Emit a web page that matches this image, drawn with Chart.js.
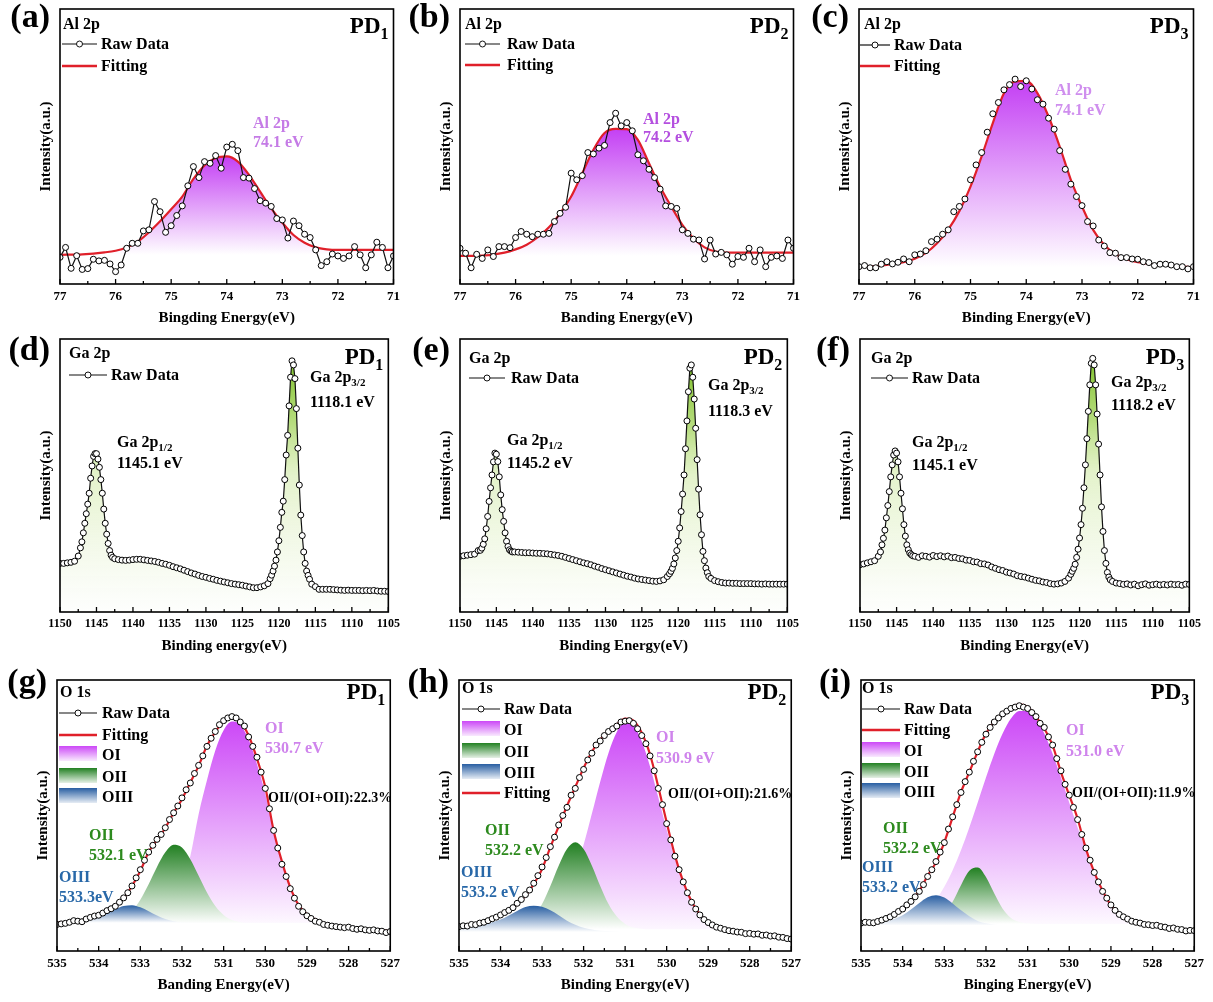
<!DOCTYPE html>
<html>
<head>
<meta charset="utf-8">
<title>XPS spectra PD1-PD3</title>
<script src="https://cdn.jsdelivr.net/npm/chart.js@4.4.1/dist/chart.umd.min.js"></script>
<style>
  body { margin: 0; background: #fff; width: 1213px; height: 1002px; overflow: hidden; position: relative; }
  .cell { position: absolute; }
</style>
</head>
<body>
<script>
// ---- Al 2p ----
var alEnergy = [77.0, 76.9, 76.8, 76.7, 76.6, 76.5, 76.4, 76.3, 76.2, 76.1,
  76.0, 75.9, 75.8, 75.7, 75.6, 75.5, 75.4, 75.3, 75.2, 75.1,
  75.0, 74.9, 74.8, 74.7, 74.6, 74.5, 74.4, 74.3, 74.2, 74.1,
  74.0, 73.9, 73.8, 73.7, 73.6, 73.5, 73.4, 73.3, 73.2, 73.1,
  73.0, 72.9, 72.8, 72.7, 72.6, 72.5, 72.4, 72.3, 72.2, 72.1,
  72.0, 71.9, 71.8, 71.7, 71.6, 71.5, 71.4, 71.3, 71.2, 71.1, 71.0];
var alRawPD1 = [9.7, 13.3, 5.7, 10.3, 5.3, 5.6, 9.0, 8.4, 8.6, 7.3,
  4.5, 6.9, 13.0, 14.8, 14.8, 19.3, 19.7, 30.0, 26.3, 18.8,
  21.2, 24.9, 28.4, 35.7, 42.7, 38.7, 44.5, 43.9, 46.7, 42.1,
  49.8, 50.8, 48.5, 38.7, 38.5, 34.7, 30.3, 29.4, 28.2, 23.8,
  23.3, 16.7, 22.9, 21.2, 18.1, 16.9, 12.4, 6.7, 8.1, 10.9,
  10.2, 9.3, 10.2, 13.6, 10.6, 5.9, 10.6, 15.2, 13.3, 5.9, 10.2];
var alRawPD2 = [13.0, 11.2, 5.9, 10.8, 9.3, 12.4, 10.0, 13.6, 13.6, 13.2,
  16.9, 19.1, 18.1, 17.2, 18.1, 18.1, 18.4, 22.7, 25.7, 27.9,
  40.3, 37.9, 39.4, 47.8, 47.3, 49.4, 50.4, 58.7, 62.1, 57.5,
  58.7, 55.7, 47.0, 44.8, 41.7, 38.7, 34.5, 28.4, 28.2, 27.5,
  19.7, 18.4, 16.3, 16.0, 9.1, 16.0, 10.9, 11.5, 10.6, 7.2,
  10.0, 9.7, 13.0, 8.1, 12.4, 6.3, 9.7, 10.2, 9.3, 16.0, 13.0];
var alRawPD3 = [6.3, 6.7, 5.9, 5.9, 7.2, 8.1, 7.3, 7.9, 9.1, 8.1,
  10.6, 10.9, 12.1, 15.4, 16.3, 18.1, 19.7, 26.3, 28.2, 30.9,
  37.9, 43.3, 47.8, 55.2, 61.9, 66.0, 70.6, 72.5, 74.5, 71.8,
  73.9, 70.9, 67.0, 65.4, 60.3, 56.3, 48.5, 41.7, 36.3, 31.8,
  28.5, 22.7, 21.1, 16.0, 13.8, 11.4, 11.2, 9.6, 9.6, 9.1,
  9.0, 8.1, 7.8, 6.7, 7.2, 7.2, 6.9, 6.3, 6.3, 5.5, 6.3];
var alFitEnergy = [77.0, 76.6, 76.2, 76.0, 75.8, 75.6, 75.4, 75.2, 75.0, 74.8, 74.6, 74.4, 74.2,
  74.0, 73.8, 73.6, 73.4, 73.2, 73.0, 72.8, 72.6, 72.4, 72.2, 72.0, 71.5, 71.0];
var alFitPD1 = [10.6, 10.8, 11.5, 12.1, 13.3, 15.4, 18.8, 22.8, 27.2, 31.8, 38.2, 43.1, 45.8,
  46.4, 44.5, 39.7, 33.6, 27.5, 22.3, 17.8, 15.0, 13.3, 12.6, 12.4, 12.4, 12.4];
var alFitPD2 = [10.2, 10.3, 11.4, 12.6, 14.3, 17.0, 20.6, 25.7, 31.8, 40.3, 48.8, 54.9, 56.4,
  56.3, 52.4, 43.9, 35.4, 28.2, 21.5, 16.6, 13.3, 11.8, 11.4, 11.4, 11.4, 11.4];
var alFitPD3 = [6.3, 6.7, 7.9, 9.2, 11.3, 14.8, 19.8, 26.5, 35.4, 46.4, 58.5, 69.4, 73.7,
  73.9, 69.4, 60.9, 50.0, 37.9, 28.2, 19.7, 14.2, 10.9, 9.0, 7.9, 6.9, 6.1];

// ---- Ga 2p ----
var gaEnergy = [1150, 1149.5, 1149, 1148.5, 1148, 1147.5,
  1147.2, 1147.0, 1146.8, 1146.6, 1146.4, 1146.2, 1146.0, 1145.8, 1145.6, 1145.4, 1145.2, 1145.0,
  1144.8, 1144.6, 1144.4, 1144.2, 1144.0, 1143.8, 1143.6, 1143.4, 1143.2, 1143.0, 1142.8,
  1142.5, 1142, 1141.5, 1141, 1140.5, 1140, 1139.5, 1139, 1138.5, 1138, 1137.5, 1137, 1136.5, 1136,
  1135.5, 1135, 1134.5, 1134, 1133.5, 1133, 1132.5, 1132, 1131.5, 1131, 1130.5, 1130, 1129.5, 1129,
  1128.5, 1128, 1127.5, 1127, 1126.5, 1126, 1125.5, 1125, 1124.5, 1124, 1123.5, 1123, 1122.5, 1122, 1121.5,
  1121.2, 1121.0, 1120.8, 1120.6, 1120.4, 1120.2, 1120.0, 1119.8, 1119.6, 1119.4, 1119.2, 1119.0,
  1118.8, 1118.6, 1118.4, 1118.2, 1118.0, 1117.8, 1117.6, 1117.4, 1117.2, 1117.0, 1116.8, 1116.6,
  1116.4, 1116.2, 1116.0, 1115.8,
  1115.5, 1115, 1114.5, 1114, 1113.5, 1113, 1112.5, 1112, 1111.5, 1111, 1110.5, 1110, 1109.5, 1109,
  1108.5, 1108, 1107.5, 1107, 1106.5, 1106, 1105.5, 1105];
var gaPD1 = [17.8, 17.8, 18.0, 18.2, 18.6, 20.5,
  23.5, 25.7, 29.0, 32.5, 36.0, 39.5, 43.5, 49.0, 53.5, 57.0, 58.0, 58.0,
  56.0, 53.0, 48.5, 43.5, 37.7, 32.5, 28.5, 25.1, 22.5, 20.8, 20.0,
  19.5, 19.2, 19.0, 18.9, 19.0, 19.2, 19.3, 19.3, 19.1, 18.9, 18.7, 18.5, 18.2, 17.8,
  17.5, 17.1, 16.6, 16.2, 15.8, 15.3, 14.8, 14.3, 13.9, 13.4, 13.0, 12.7, 12.3, 12.0,
  11.6, 11.3, 11.0, 10.7, 10.4, 10.2, 10.0, 9.8, 9.5, 9.2, 8.9, 8.9, 9.2, 9.6, 10.4,
  12.2, 13.5, 15.0, 16.8, 19.0, 22.0, 26.1, 31.0, 36.5, 40.6, 48.5, 57.5,
  64.7, 75.5, 86.0, 92.0, 90.5, 85.5, 74.5, 60.0, 46.5, 35.5, 28.0, 22.0,
  17.8, 15.0, 13.4, 12.0,
  10.2, 9.3, 8.3, 8.3, 8.3, 8.3, 8.2, 8.1, 8.0, 7.9, 8.0, 7.9, 7.9, 7.9,
  7.8, 7.9, 7.8, 7.9, 7.7, 7.6, 7.6, 7.5];
var gaPD2 = [20.4, 20.6, 20.8, 21.0, 21.2, 22.5,
  22.6, 23.4, 24.8, 26.8, 30.5, 35.0, 40.5, 45.5, 50.2, 55.0, 58.2, 57.8,
  55.1, 49.5, 42.9, 37.5, 33.2, 29.0, 25.9, 24.0, 22.8, 22.3, 22.0,
  22.0, 21.9, 21.8, 21.7, 21.7, 21.6, 21.5, 21.5, 21.4, 21.3, 21.1, 20.9, 20.7, 20.4,
  20.0, 19.6, 19.2, 18.8, 18.4, 18.0, 17.7, 17.3, 16.8, 16.4, 15.9, 15.5, 15.1, 14.7,
  14.3, 13.9, 13.5, 13.1, 12.8, 12.4, 12.1, 11.9, 11.7, 11.5, 11.3, 11.2, 11.4, 11.8, 13.0,
  14.0, 14.9, 16.0, 17.6, 19.8, 22.5, 25.9, 30.8, 36.8, 43.2, 50.2, 59.8,
  70.0, 80.7, 89.3, 90.5, 86.0, 78.0, 67.3, 55.8, 45.0, 35.6, 28.3, 22.2,
  18.8, 16.1, 14.4, 13.0,
  12.3, 11.5, 11.1, 10.8, 10.6, 10.6, 10.5, 10.5, 10.4, 10.4, 10.4, 10.4, 10.3, 10.3,
  10.2, 10.3, 10.2, 10.2, 10.2, 10.2, 10.2, 10.2];
var gaPD3 = [17.3, 17.6, 18.0, 18.4, 18.8, 20.4,
  22.0, 24.6, 27.0, 30.0, 34.5, 39.0, 44.1, 49.5, 53.9, 57.5, 59.0, 58.2,
  55.0, 49.5, 43.5, 37.8, 32.0, 27.8, 24.6, 22.8, 21.6, 21.0, 20.6,
  20.4, 20.0, 20.6, 20.4, 20.1, 20.7, 20.3, 20.6, 20.2, 20.5, 19.9, 20.0, 19.6, 19.5,
  19.0, 18.9, 18.4, 18.3, 17.7, 17.6, 17.2, 16.5, 16.0, 15.5, 15.2, 14.6, 14.3, 13.9,
  13.3, 13.0, 12.8, 12.4, 12.0, 11.6, 11.4, 11.0, 10.8, 10.4, 10.2, 10.3, 10.6, 11.2, 12.4,
  13.8, 14.9, 16.0, 17.5, 20.0, 23.0, 27.1, 32.0, 38.0, 45.5, 53.9, 63.5,
  73.5, 83.2, 91.1, 92.9, 90.5, 83.2, 72.5, 61.5, 50.2, 38.5, 29.5, 22.5,
  17.8, 14.5, 12.8, 11.8,
  11.2, 10.6, 10.4, 10.1, 10.3, 9.9, 10.2, 9.6, 10.0, 10.3, 9.8, 10.0, 10.2, 9.9,
  10.1, 9.9, 10.2, 10.0, 10.1, 9.8, 10.2, 10.1];

// ---- O 1s ----
var oEnergy = [535.0, 534.9, 534.8, 534.7, 534.6, 534.5, 534.4, 534.3, 534.2, 534.1,
  534.0, 533.9, 533.8, 533.7, 533.6, 533.5, 533.4, 533.3, 533.2, 533.1,
  533.0, 532.9, 532.8, 532.7, 532.6, 532.5, 532.4, 532.3, 532.2, 532.1,
  532.0, 531.9, 531.8, 531.7, 531.6, 531.5, 531.4, 531.3, 531.2, 531.1,
  531.0, 530.9, 530.8, 530.7, 530.6, 530.5, 530.4, 530.3, 530.2, 530.1,
  530.0, 529.9, 529.8, 529.7, 529.6, 529.5, 529.4, 529.3, 529.2, 529.1,
  529.0, 528.9, 528.8, 528.7, 528.6, 528.5, 528.4, 528.3, 528.2, 528.1,
  528.0, 527.9, 527.8, 527.7, 527.6, 527.5, 527.4, 527.3, 527.2, 527.1, 527.0];
var oRawPD1 = [9.8, 10.0, 10.2, 10.6, 11.2, 11.0, 10.8, 11.8, 12.4, 12.9,
  13.2, 14.0, 14.9, 15.6, 16.5, 18.0, 19.6, 21.5, 24.0, 27.0,
  30.0, 33.5, 36.5, 39.0, 41.2, 43.0, 45.5, 48.5, 51.0, 53.5,
  56.5, 59.5, 62.0, 65.5, 68.5, 72.0, 75.5, 78.5, 81.0, 83.5,
  85.0, 86.0, 86.5, 86.0, 84.5, 83.0, 79.0, 75.5, 71.5, 66.0,
  60.0, 52.5, 44.5, 38.0, 32.0, 27.5, 23.0, 19.5, 16.5, 14.5,
  13.0, 12.0, 11.0, 10.6, 9.8, 9.5, 9.2, 9.0, 8.8, 8.6,
  8.8, 8.3, 8.0, 8.2, 7.8, 7.6, 7.8, 7.4, 7.3, 6.8, 7.2];
var oRawPD2 = [9.0, 9.3, 9.2, 9.8, 9.7, 10.3, 10.6, 11.2, 11.9, 12.5,
  13.3, 14.2, 15.0, 16.0, 17.6, 19.0, 20.8, 22.5, 25.0, 27.8,
  31.0, 34.5, 38.5, 42.0, 46.5, 50.0, 53.0, 57.5, 60.0, 64.0,
  67.0, 70.5, 73.0, 76.0, 77.5, 79.5, 81.0, 82.0, 83.0, 84.5,
  84.8, 85.0, 84.0, 82.0, 79.5, 76.5, 72.0, 66.5, 60.0, 54.0,
  47.0, 41.0, 35.0, 30.0, 25.5, 21.5, 18.0, 15.5, 13.3, 11.6,
  10.5, 9.6, 8.8, 8.4, 7.9, 7.5, 7.3, 7.0, 6.9, 6.4,
  6.5, 6.2, 6.3, 5.8, 5.9, 5.5, 5.6, 5.1, 5.0, 4.6, 4.4];
var oRawPD3 = [10.3, 10.6, 10.5, 10.4, 10.9, 11.4, 12.0, 12.6, 13.5, 14.6,
  15.5, 17.0, 18.3, 20.0, 22.0, 24.5, 27.5, 30.0, 33.0, 36.5,
  40.0, 45.0, 49.5, 54.0, 58.5, 62.5, 66.0, 70.0, 73.5, 77.0,
  80.0, 82.5, 84.5, 86.0, 87.5, 88.5, 89.5, 90.0, 90.5, 90.0,
  89.5, 88.0, 86.5, 84.0, 82.5, 79.0, 76.0, 71.0, 66.5, 61.5,
  57.5, 53.0, 48.5, 43.0, 38.0, 33.5, 29.0, 25.5, 22.0, 19.5,
  17.0, 15.0, 13.5, 12.6, 11.8, 11.0, 10.6, 10.3, 9.8, 9.7,
  9.4, 9.5, 9.0, 8.8, 8.3, 8.5, 8.0, 7.9, 7.4, 7.6, 7.5];
var oFitEnergy = [535.0, 534.8, 534.6, 534.4, 534.2, 534.0, 533.8, 533.6, 533.4, 533.2,
  533.0, 532.8, 532.6, 532.4, 532.2, 532.0, 531.8, 531.6, 531.4, 531.2,
  531.0, 530.8, 530.6, 530.4, 530.2, 530.0, 529.8, 529.6, 529.4, 529.2,
  529.0, 528.8, 528.6, 528.4, 528.2, 528.0, 527.8, 527.6, 527.4, 527.2, 527.0];
var oFitPD1 = [10.4, 10.6, 11.0, 11.3, 12.3, 13.3, 14.5, 16.8, 19.5, 24.0,
  29.5, 36.5, 41.0, 45.4, 51.0, 56.0, 62.2, 68.3, 75.7, 80.8,
  84.8, 86.1, 84.7, 79.5, 71.0, 60.5, 44.5, 33.0, 23.5, 17.0,
  13.5, 11.6, 10.2, 9.4, 9.0, 8.6, 8.4, 8.1, 7.9, 7.6, 7.4];
var oOI_PD1 = [8.0, 8.0, 8.0, 8.0, 8.0, 8.0, 8.0, 8.1, 8.2, 8.5,
  9.0, 9.6, 10.8, 13.0, 17.0, 24.0, 35.0, 50.5, 63.0, 74.0,
  81.5, 84.7, 83.5, 78.0, 69.0, 58.0, 44.0, 32.5, 23.0, 16.5,
  12.8, 10.8, 9.6, 9.0, 8.6, 8.3, 8.0, 7.8, 7.6, 7.5, 7.3];
var oOII_PD1 = [10.0, 10.0, 10.0, 10.0, 10.0, 10.0, 10.0, 10.9, 12.2, 14.7,
  18.9, 24.6, 31.0, 36.4, 39.2, 38.2, 33.9, 27.8, 21.6, 16.6,
  13.3, 11.4, 10.6, 10.0, 10.0, 10.0, 10.0, 10.0, 10.0, 10.0,
  10.0, 10.0, 10.0, 10.0, 10.0, 10.0, 10.0, 10.0, 10.0, 10.0, 10.0];
var oOIII_PD1 = [10.4, 10.4, 10.5, 10.8, 11.4, 12.4, 13.9, 15.4, 16.6, 16.9,
  16.1, 14.7, 13.1, 11.8, 11.0, 10.6, 10.4, 10.4, 10.4, 10.4,
  10.4, 10.4, 10.4, 10.4, 10.4, 10.4, 10.4, 10.4, 10.4, 10.4,
  10.4, 10.4, 10.4, 10.4, 10.4, 10.4, 10.4, 10.4, 10.4, 10.4, 10.4];
var oFitPD2 = [9.3, 9.6, 9.9, 10.7, 11.7, 13.2, 14.8, 17.3, 20.4, 24.7,
  30.2, 38.3, 46.0, 53.5, 60.5, 67.5, 73.5, 78.0, 81.0, 83.6,
  85.8, 85.0, 80.5, 72.5, 60.5, 47.5, 35.2, 25.5, 18.3, 13.5,
  10.5, 9.0, 8.0, 7.3, 6.8, 6.4, 6.0, 5.6, 5.2, 4.8, 4.4];
var oOI_PD2 = [6.5, 6.5, 6.5, 6.5, 6.6, 6.7, 6.9, 7.2, 7.7, 8.3,
  9.0, 11.4, 15.3, 21.3, 29.2, 39.2, 50.7, 62.5, 73.1, 80.8,
  84.4, 83.3, 77.4, 68.1, 56.6, 44.8, 34.0, 24.9, 18.0, 13.2,
  10.0, 8.6, 7.5, 6.9, 6.5, 6.2, 5.9, 5.5, 5.1, 4.8, 4.4];
var oOII_PD2 = [8.0, 8.0, 8.0, 8.0, 8.0, 8.0, 8.0, 8.7, 10.0, 12.7,
  17.3, 24.0, 31.5, 37.6, 40.1, 37.6, 31.5, 24.0, 17.3, 12.7,
  10.0, 8.7, 8.2, 8.0, 8.0, 8.0, 8.0, 8.0, 8.0, 8.0,
  8.0, 8.0, 8.0, 8.0, 8.0, 8.0, 8.0, 8.0, 8.0, 8.0, 8.0];
var oOIII_PD2 = [9.3, 9.4, 9.6, 10.0, 10.6, 11.6, 13.1, 14.8, 16.2, 16.7,
  16.3, 15.0, 13.2, 11.2, 9.7, 8.6, 7.9, 7.5, 7.3, 7.1,
  7.0, 7.0, 7.0, 7.0, 7.0, 7.0, 7.0, 7.0, 7.0, 7.0,
  7.0, 7.0, 7.0, 7.0, 7.0, 7.0, 7.0, 7.0, 7.0, 7.0, 7.0];
var oFitPD3 = [10.5, 10.6, 10.7, 12.0, 13.6, 15.7, 18.5, 22.2, 27.8, 32.7,
  40.1, 49.4, 58.6, 66.0, 73.5, 80.2, 84.6, 87.7, 89.8, 91.0,
  90.1, 86.4, 82.1, 75.9, 66.0, 57.4, 48.8, 37.7, 29.0, 22.2,
  16.9, 13.6, 11.7, 10.6, 9.9, 9.4, 9.0, 8.5, 8.0, 7.7, 7.4];
var oOI_PD3 = [8.1, 8.2, 8.3, 8.6, 9.0, 9.8, 11.0, 12.7, 15.3, 18.9,
  23.7, 29.8, 37.2, 45.6, 54.7, 64.0, 72.8, 80.3, 85.8, 88.6,
  88.6, 85.8, 80.3, 72.8, 64.0, 54.7, 45.6, 37.2, 29.0, 22.0,
  16.5, 13.3, 11.5, 10.4, 9.7, 9.0, 8.4, 8.0, 7.7, 7.5, 7.3];
var oOII_PD3 = [10.0, 10.0, 10.0, 10.0, 10.0, 10.0, 10.0, 10.0, 10.0, 11.3,
  13.6, 18.2, 24.3, 29.6, 30.8, 27.3, 21.2, 15.6, 12.2, 10.7,
  10.2, 10.0, 10.0, 10.0, 10.0, 10.0, 10.0, 10.0, 10.0, 10.0,
  10.0, 10.0, 10.0, 10.0, 10.0, 10.0, 10.0, 10.0, 10.0, 10.0, 10.0];
var oOIII_PD3 = [10.5, 10.6, 10.7, 11.0, 11.8, 13.2, 15.3, 17.7, 19.8, 20.6,
  19.7, 17.5, 15.0, 12.8, 11.1, 10.2, 9.7, 9.5, 9.4, 9.4,
  9.4, 9.4, 9.4, 9.4, 9.4, 9.4, 9.4, 9.4, 9.4, 9.4,
  9.4, 9.4, 9.4, 9.4, 9.4, 9.4, 9.4, 9.4, 9.4, 9.4, 9.4];

// ---- styling ----
var SERIF = '"Liberation Serif", "Times New Roman", serif';
var RED = '#e0202a';
var AL_STOPS = [[0, 'rgb(196,64,244)'], [1, 'rgb(255,255,255)']];
var OI_STOPS = [[0, 'rgb(204,72,247)'], [1, 'rgb(255,255,255)']];
var OII_STOPS = [[0, 'rgb(34,128,34)'], [1, 'rgb(255,255,255)']];
var OIII_STOPS = [[0, 'rgb(40,94,162)'], [1, 'rgb(255,255,255)']];
var GA_STOPS = [[0, 'rgba(128,194,44,1)'], [0.25, 'rgba(165,212,95,0.8)'], [0.45, 'rgba(200,230,150,0.5)'],
  [0.8, 'rgba(225,240,200,0.3)'], [1, 'rgba(240,248,232,0.12)']];
var SWATCH = { OI: OI_STOPS, OII: OII_STOPS, OIII: OIII_STOPS };
var C_OI = '#cf84ec', C_OII = '#2d8a1e', C_OIII = '#2868a8';

function fnt(size) { return 'bold ' + size + 'px ' + SERIF; }

function pairs(xs, ys) {
  var out = [];
  for (var i = 0; i < xs.length && i < ys.length; i++) out.push({ x: xs[i], y: ys[i] });
  return out;
}

// vertical gradient from the dataset's highest point down to its lowest (or to the plot bottom)
function fade(stops, toBottom) {
  return function (c) {
    var chart = c.chart;
    if (!chart.chartArea || !c.dataset) return 'rgba(0,0,0,0)';
    var ys = c.dataset.data.map(function (p) { return p.y; });
    var sy = chart.scales.y;
    var top = sy.getPixelForValue(Math.max.apply(null, ys));
    var bot = toBottom ? chart.chartArea.bottom : sy.getPixelForValue(Math.min.apply(null, ys));
    var g = chart.ctx.createLinearGradient(0, top, 0, bot);
    stops.forEach(function (s) { g.addColorStop(s[0], s[1]); });
    return g;
  };
}

function rawSet(data, showLine, fill, r) {
  return {
    data: data, showLine: showLine, borderColor: '#111', borderWidth: 1.2, tension: 0,
    pointRadius: r || 3, pointBorderWidth: 1, pointBackgroundColor: '#fff', pointBorderColor: '#000',
    fill: fill ? 'start' : false, backgroundColor: fill || 'rgba(0,0,0,0)', order: 0
  };
}
function fitSet(data, fill) {
  return {
    data: data, borderColor: RED, borderWidth: 2.2, pointRadius: 0, cubicInterpolationMode: 'monotone',
    fill: fill ? 'start' : false, backgroundColor: fill || 'rgba(0,0,0,0)', order: 1
  };
}
function compSet(data, stops, order) {
  return {
    data: data, borderWidth: 0, borderColor: 'rgba(0,0,0,0)', pointRadius: 0,
    cubicInterpolationMode: 'monotone', fill: 'start', backgroundColor: fade(stops), order: order
  };
}
function oSets(raw, fit, oi, oii, oiii) {
  return [rawSet(pairs(oEnergy, raw), false), fitSet(pairs(oFitEnergy, fit)),
    compSet(pairs(oFitEnergy, oiii), OIII_STOPS, 2), compSet(pairs(oFitEnergy, oii), OII_STOPS, 3),
    compSet(pairs(oFitEnergy, oi), OI_STOPS, 4)];
}

function sub(a, b) { return [[a, 0], [b, 1]]; }

var panels = [
  { box: [60, 9, 395, 284], letter: '(a)', letterDy: 18, pd: '1', pdDy: 24, head: 'Al 2p', headAt: [3, 20],
    xMin: 71, xMax: 77, step: 1, tick: 13, xTitle: 'Bingding Energy(eV)',
    legend: { x0: 2, x1: 37, tx: 41, rows: [['raw', 'Raw Data', 40], ['fit', 'Fitting', 62]] },
    notes: [{ t: 'Al 2p', at: [193, 119], c: '#c57be6' }, { t: '74.1 eV', at: [193, 138], c: '#c57be6' }],
    datasets: [rawSet(pairs(alEnergy, alRawPD1), true), fitSet(pairs(alFitEnergy, alFitPD1), fade(AL_STOPS))] },
  { box: [460, 9, 795, 284], letter: '(b)', letterDy: 18, pd: '2', pdDy: 24, head: 'Al 2p', headAt: [5, 20],
    xMin: 71, xMax: 77, step: 1, tick: 13, xTitle: 'Banding Energy(eV)',
    legend: { x0: 5, x1: 40, tx: 47, rows: [['raw', 'Raw Data', 40], ['fit', 'Fitting', 61]] },
    notes: [{ t: 'Al 2p', at: [183, 115], c: '#b44fdf' }, { t: '74.2 eV', at: [183, 133], c: '#b44fdf' }],
    datasets: [rawSet(pairs(alEnergy, alRawPD2), true), fitSet(pairs(alFitEnergy, alFitPD2), fade(AL_STOPS))] },
  { box: [859, 9, 1195, 284], letter: '(c)', letterDy: 18, pd: '3', pdDy: 24, head: 'Al 2p', headAt: [5, 20],
    xMin: 71, xMax: 77, step: 1, tick: 13, xTitle: 'Binding Energy(eV)',
    legend: { x0: 1, x1: 31, tx: 35, rows: [['raw', 'Raw Data', 41], ['fit', 'Fitting', 62]] },
    notes: [{ t: 'Al 2p', at: [196, 86], c: '#cf8eee' }, { t: '74.1 eV', at: [196, 106], c: '#cf8eee' }],
    datasets: [rawSet(pairs(alEnergy, alRawPD3), false), fitSet(pairs(alFitEnergy, alFitPD3), fade(AL_STOPS))] },

  { box: [60, 339, 395, 612], letter: '(d)', letterDy: 21, pd: '1', pdDy: 25, head: 'Ga 2p', headAt: [9, 19],
    xMin: 1105, xMax: 1150, step: 5, tick: 12, xTitle: 'Binding energy(eV)',
    legend: { x0: 9, x1: 47, tx: 51, rows: [['raw', 'Raw Data', 41]] },
    notes: [{ t: sub('Ga 2p', '1/2'), at: [57, 108] }, { t: '1145.1 eV', at: [57, 129] },
            { t: sub('Ga 2p', '3/2'), at: [250, 43] }, { t: '1118.1 eV', at: [250, 68] }],
    datasets: [rawSet(pairs(gaEnergy, gaPD1), true, fade(GA_STOPS, true), 3)] },
  { box: [460, 339, 794, 612], letter: '(e)', letterDy: 21, pd: '2', pdDy: 25, head: 'Ga 2p', headAt: [9, 24],
    xMin: 1105, xMax: 1150, step: 5, tick: 12, xTitle: 'Binding Energy(eV)',
    legend: { x0: 9, x1: 45, tx: 51, rows: [['raw', 'Raw Data', 44]] },
    notes: [{ t: sub('Ga 2p', '1/2'), at: [47, 106] }, { t: '1145.2 eV', at: [47, 129] },
            { t: sub('Ga 2p', '3/2'), at: [248, 51] }, { t: '1118.3 eV', at: [248, 77] }],
    datasets: [rawSet(pairs(gaEnergy, gaPD2), true, fade(GA_STOPS, true), 3)] },
  { box: [860, 339, 1196, 612], letter: '(f)', letterDy: 21, pd: '3', pdDy: 25, head: 'Ga 2p', headAt: [11, 24],
    xMin: 1105, xMax: 1150, step: 5, tick: 12, xTitle: 'Binding Energy(eV)',
    legend: { x0: 11, x1: 48, tx: 52, rows: [['raw', 'Raw Data', 44]] },
    notes: [{ t: sub('Ga 2p', '1/2'), at: [52, 108] }, { t: '1145.1 eV', at: [52, 131] },
            { t: sub('Ga 2p', '3/2'), at: [251, 48] }, { t: '1118.2 eV', at: [251, 71] }],
    datasets: [rawSet(pairs(gaEnergy, gaPD3), true, fade(GA_STOPS, true), 3)] },

  { box: [57, 680, 395, 951], letter: '(g)', letterDy: 12, pd: '1', pdDy: 19, head: 'O 1s', headAt: [3, 17],
    xMin: 527, xMax: 535, step: 1, tick: 13, xTitle: 'Banding Energy(eV)',
    legend: { x0: 2, x1: 40, tx: 45, rows: [['raw', 'Raw Data', 38], ['fit', 'Fitting', 60], ['OI', 'OI', 80], ['OII', 'OII', 102], ['OIII', 'OIII', 122]] },
    notes: [{ t: 'OI', at: [208, 53], c: C_OI }, { t: '530.7 eV', at: [208, 73], c: C_OI },
            { t: 'OII/(OI+OII):22.3%', at: [211, 122], s: 14 },
            { t: 'OII', at: [32, 160], c: C_OII }, { t: '532.1 eV', at: [32, 180], c: C_OII },
            { t: 'OIII', at: [2, 202], c: C_OIII }, { t: '533.3eV', at: [2, 222], c: C_OIII }],
    datasets: oSets(oRawPD1, oFitPD1, oOI_PD1, oOII_PD1, oOIII_PD1) },
  { box: [459, 680, 796, 951], letter: '(h)', letterDy: 12, pd: '2', pdDy: 19, head: 'O 1s', headAt: [3, 13],
    xMin: 527, xMax: 535, step: 1, tick: 13, xTitle: 'Binding Energy(eV)',
    legend: { x0: 3, x1: 41, tx: 45, rows: [['raw', 'Raw Data', 34], ['OI', 'OI', 55], ['OII', 'OII', 77], ['OIII', 'OIII', 98], ['fit', 'Fitting', 118]] },
    notes: [{ t: 'OI', at: [197, 62], c: C_OI }, { t: '530.9 eV', at: [197, 83], c: C_OI },
            { t: 'OII/(OI+OII):21.6%', at: [209, 118], s: 14 },
            { t: 'OII', at: [26, 155], c: C_OII }, { t: '532.2 eV', at: [26, 175], c: C_OII },
            { t: 'OIII', at: [2, 197], c: C_OIII }, { t: '533.2 eV', at: [2, 217], c: C_OIII }],
    datasets: oSets(oRawPD2, oFitPD2, oOI_PD2, oOII_PD2, oOIII_PD2) },
  { box: [861, 680, 1199, 951], letter: '(i)', letterDy: 12, pd: '3', pdDy: 19, head: 'O 1s', headAt: [1, 13],
    xMin: 527, xMax: 535, step: 1, tick: 13, xTitle: 'Binging Energy(eV)',
    legend: { x0: 1, x1: 39, tx: 43, rows: [['raw', 'Raw Data', 34], ['fit', 'Fitting', 55], ['OI', 'OI', 76], ['OII', 'OII', 97], ['OIII', 'OIII', 117]] },
    notes: [{ t: 'OI', at: [205, 55], c: C_OI }, { t: '531.0 eV', at: [205, 76], c: C_OI },
            { t: 'OII/(OI+OII):11.9%', at: [211, 117], s: 14 },
            { t: 'OII', at: [22, 153], c: C_OII }, { t: '532.2 eV', at: [22, 173], c: C_OII },
            { t: 'OIII', at: [1, 192], c: C_OIII }, { t: '533.2 eV', at: [1, 212], c: C_OIII }],
    datasets: oSets(oRawPD3, oFitPD3, oOI_PD3, oOII_PD3, oOIII_PD3) }
];

function seg(ctx, x1, y1, x2, y2) {
  ctx.beginPath(); ctx.moveTo(x1, y1); ctx.lineTo(x2, y2); ctx.stroke();
}

// text with optional subscript parts: [[text, isSub], ...]
function rich(ctx, parts, x, y, size, color, align) {
  if (typeof parts === 'string') parts = [[parts, 0]];
  var small = Math.round(size * 0.68), w = 0;
  parts.forEach(function (p) { ctx.font = fnt(p[1] ? small : size); w += ctx.measureText(p[0]).width; });
  var cx = align === 'right' ? x - w : x;
  ctx.fillStyle = color || '#000';
  ctx.textAlign = 'left';
  ctx.textBaseline = 'alphabetic';
  parts.forEach(function (p) {
    ctx.font = fnt(p[1] ? small : size);
    ctx.fillText(p[0], cx, y + (p[1] ? Math.round(size * 0.28) : 0));
    cx += ctx.measureText(p[0]).width;
  });
}

function decorate(chart, p) {
  var ctx = chart.ctx, a = chart.chartArea, xs = chart.scales.x;
  ctx.save();
  // frame
  ctx.strokeStyle = '#000';
  ctx.lineWidth = 1.6;
  ctx.strokeRect(a.left, a.top, a.right - a.left, a.bottom - a.top);
  // inward ticks on the bottom axis
  ctx.lineWidth = 1.3;
  xs.ticks.forEach(function (t) {
    var px = xs.getPixelForValue(t.value);
    seg(ctx, px, a.bottom, px, a.bottom - 5);
    var mid = t.value + p.step / 2;
    if (mid < xs.max) {
      var mx = xs.getPixelForValue(mid);
      seg(ctx, mx, a.bottom, mx, a.bottom - 3);
    }
  });
  // panel letter, sample tag, element
  rich(ctx, p.letter, a.left - 10, a.top + p.letterDy, 34, '#000', 'right');
  rich(ctx, sub('PD', p.pd), a.right - 5, a.top + p.pdDy, 23, '#000', 'right');
  rich(ctx, p.head, a.left + p.headAt[0], a.top + p.headAt[1], 16, '#000');
  // peak notes
  p.notes.forEach(function (n) {
    rich(ctx, n.t, a.left + n.at[0], a.top + n.at[1], n.s || 16, n.c || '#000');
  });
  // legend
  var lg = p.legend;
  lg.rows.forEach(function (r) {
    var y = a.top + r[2], x0 = a.left + lg.x0, x1 = a.left + lg.x1, my = y - 5;
    if (r[0] === 'raw') {
      ctx.strokeStyle = '#111'; ctx.lineWidth = 1.2;
      seg(ctx, x0, my, x1, my);
      ctx.beginPath(); ctx.arc((x0 + x1) / 2, my, 3, 0, Math.PI * 2);
      ctx.fillStyle = '#fff'; ctx.fill(); ctx.lineWidth = 1; ctx.stroke();
    } else if (r[0] === 'fit') {
      ctx.strokeStyle = RED; ctx.lineWidth = 2.5;
      seg(ctx, x0, my, x1, my);
    } else {
      var g = ctx.createLinearGradient(0, y - 14, 0, y + 3);
      SWATCH[r[0]].forEach(function (s) { g.addColorStop(s[0], s[1]); });
      ctx.fillStyle = g;
      ctx.fillRect(x0, y - 14, x1 - x0, 15);
    }
    rich(ctx, r[1], a.left + lg.tx, y, 16, '#000');
  });
  ctx.restore();
}

function makePanel(p) {
  var W = p.box[2] - p.box[0] + 70, H = p.box[3] - p.box[1] + 64;
  var div = document.createElement('div');
  div.className = 'cell';
  div.style.left = (p.box[0] - 60) + 'px';
  div.style.top = (p.box[1] - 14) + 'px';
  div.style.width = W + 'px';
  div.style.height = H + 'px';
  var cv = document.createElement('canvas');
  div.appendChild(cv);
  document.body.appendChild(div);

  new Chart(cv, {
    type: 'line',
    data: { datasets: p.datasets },
    options: {
      responsive: true,
      maintainAspectRatio: false,
      animation: false,
      layout: { padding: { left: 37, top: 14, right: 10, bottom: 0 } },
      plugins: { legend: { display: false }, tooltip: { enabled: false } },
      scales: {
        x: {
          type: 'linear', reverse: true, min: p.xMin, max: p.xMax,
          grid: { display: false, drawTicks: false },
          border: { display: false },
          ticks: {
            stepSize: p.step, autoSkip: false, maxRotation: 0, padding: 5, color: '#000',
            font: { family: SERIF, size: p.tick, weight: 'bold' },
            callback: function (v) { return String(v); }
          },
          title: {
            display: true, text: p.xTitle, color: '#000', padding: { top: 0, bottom: 7 },
            font: { family: SERIF, size: 15, weight: 'bold' }
          },
          afterFit: function (s) { s.height = 50; }
        },
        y: {
          min: 0, max: 100,
          grid: { display: false, drawTicks: false },
          border: { display: false },
          ticks: { display: false },
          title: {
            display: true, text: 'Intensity(a.u.)', color: '#000', padding: 0,
            font: { family: SERIF, size: 15, weight: 'bold' }
          },
          afterFit: function (s) { s.width = 23; }
        }
      }
    },
    plugins: [{ id: 'decor', afterDraw: function (c) { decorate(c, p); } }]
  });
}

panels.forEach(makePanel);
</script>
</body>
</html>
